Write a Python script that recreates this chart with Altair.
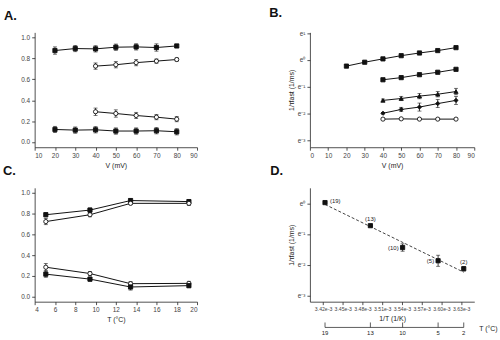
import altair as alt
import pandas as pd

FONT = "Liberation Sans"

# ---------------- Panel A ----------------
A_V_full = [20, 30, 40, 50, 60, 70, 80]
A_V_part = [40, 50, 60, 70, 80]
A_closed_top = [0.876, 0.895, 0.892, 0.908, 0.911, 0.905, 0.92]
A_closed_top_err = [0.035, 0.03, 0.03, 0.03, 0.03, 0.035, 0.015]
A_open_top = [0.727, 0.74, 0.76, 0.775, 0.79]
A_open_top_err = [0.03, 0.03, 0.03, 0.02, 0.015]
A_open_bot = [0.29, 0.273, 0.254, 0.238, 0.219]
A_open_bot_err = [0.035, 0.035, 0.03, 0.025, 0.025]
A_closed_bot = [0.12, 0.114, 0.117, 0.105, 0.105, 0.108, 0.098]
A_closed_bot_err = [0.03, 0.03, 0.03, 0.03, 0.03, 0.03, 0.03]
A_xticks = [10, 20, 30, 40, 50, 60, 70, 80, 90]
A_yticks = [0.0, 0.2, 0.4, 0.6, 0.8, 1.0]

# ---------------- Panel B ----------------
B_V_full = [20, 30, 40, 50, 60, 70, 80]
B_V_part = [40, 50, 60, 70, 80]
B_s1 = [-0.23, -0.085, 0.04, 0.16, 0.26, 0.35, 0.46]
B_s2 = [-0.74, -0.66, -0.55, -0.46, -0.35]
B_s3 = [-1.51, -1.44, -1.35, -1.28, -1.18]
B_s3_err = [0.05, 0.08, 0.1, 0.1, 0.12]
B_s4 = [-1.99, -1.85, -1.76, -1.63, -1.51]
B_s4_err = [0.03, 0.08, 0.15, 0.15, 0.15]
B_s5 = [-2.21, -2.2, -2.21, -2.21, -2.21]
B_xticks = [0, 10, 20, 30, 40, 50, 60, 70, 80, 90]
B_yticks = [-3, -2, -1, 0, 1]

# ---------------- Panel C ----------------
C_T = [5.1, 9.45, 13.45, 19.2]
C_closed_top = [0.79, 0.835, 0.927, 0.917]
C_closed_top_err = [0.02, 0.02, 0.02, 0.02]
C_open_top = [0.724, 0.79, 0.90, 0.90]
C_open_top_err = [0.03, 0.02, 0.01, 0.02]
C_open_bot = [0.283, 0.222, 0.124, 0.127]
C_open_bot_err = [0.035, 0.02, 0.02, 0.02]
C_closed_bot = [0.216, 0.168, 0.092, 0.105]
C_closed_bot_err = [0.03, 0.02, 0.03, 0.02]
C_xticks = [4, 6, 8, 10, 12, 14, 16, 18, 20]
C_yticks = [0.0, 0.2, 0.4, 0.6, 0.8, 1.0]

# ---------------- Panel D ----------------
D_T = [19, 13, 10, 5, 2]
D_invT = [3.423e-3, 3.492e-3, 3.541e-3, 3.595e-3, 3.634e-3]
D_ln = [0.02, -0.73, -1.44, -1.87, -2.13]
D_err = [0.0, 0.02, 0.12, 0.18, 0.07]
D_labels = ["(19)", "(13)", "(10)", "(5)", "(2)"]
D_xticks = [3.42e-3, 3.45e-3, 3.48e-3, 3.51e-3, 3.54e-3, 3.57e-3, 3.60e-3, 3.63e-3]
D_yticks = [-3, -2, -1, 0]

SUP = {1: "e¹", 0: "e⁰", -1: "e⁻¹", -2: "e⁻²", -3: "e⁻³"}


def sup_expr(vals):
    expr = "''"
    for v in vals:
        expr = f"datum.value == {v} ? '{SUP[v]}' : ({expr})"
    return expr


def frame(xs, ys, errs, name):
    return pd.DataFrame({"x": xs, "y": ys, "err": errs, "s": name})


def panel(df, names, shapes, fills, xdom, ydom, xaxis, yaxis, with_lines=True):
    xs = alt.Scale(domain=xdom, nice=False, zero=False)
    ys = alt.Scale(domain=ydom, nice=False, zero=False)
    X = alt.X("x:Q", scale=xs, axis=xaxis)
    Y = alt.Y("y:Q", scale=ys, axis=yaxis)
    base = alt.Chart(df)
    eb = base.transform_filter("datum.err > 0").transform_calculate(
        lo="datum.y - datum.err", hi="datum.y + datum.err")
    bars = eb.mark_rule(color="#111", strokeWidth=0.8).encode(
        x=X, y=alt.Y("lo:Q", scale=ys, axis=yaxis), y2="hi:Q")
    cap_lo = eb.mark_tick(color="#111", size=4, thickness=0.8, orient="horizontal").encode(
        x=X, y=alt.Y("lo:Q", scale=ys, axis=yaxis))
    cap_hi = eb.mark_tick(color="#111", size=4, thickness=0.8, orient="horizontal").encode(
        x=X, y=alt.Y("hi:Q", scale=ys, axis=yaxis))
    lines = base.mark_line(color="#111", strokeWidth=1).encode(x=X, y=Y, detail="s:N")
    pts = base.mark_point(size=18, strokeWidth=0.9, opacity=1, stroke="#111").encode(
        x=X, y=Y,
        shape=alt.Shape("s:N", scale=alt.Scale(domain=names, range=shapes), legend=None),
        fill=alt.Fill("s:N", scale=alt.Scale(domain=names, range=fills), legend=None),
    )
    layers = [bars, cap_lo, cap_hi] + ([lines] if with_lines else []) + [pts]
    return layers, X, Y, xs, ys


def ttl(t, dx):
    return alt.TitleParams(text=t, anchor="start", frame="group", fontSize=13,
                           fontWeight="bold", font=FONT, color="#111", dx=dx, offset=10)


def yax(vals, fmt=None, expr=None, title=None):
    kw = dict(values=vals, title=title)
    if fmt:
        kw["format"] = fmt
    if expr:
        kw["labelExpr"] = expr
    return alt.Axis(**kw)


# ---- A ----
dfA = pd.concat([
    frame(A_V_full, A_closed_top, A_closed_top_err, "A_ct"),
    frame(A_V_part, A_open_top, A_open_top_err, "A_ot"),
    frame(A_V_part, A_open_bot, A_open_bot_err, "A_ob"),
    frame(A_V_full, A_closed_bot, A_closed_bot_err, "A_cb"),
])
layA, *_ = panel(dfA, ["A_ct", "A_ot", "A_ob", "A_cb"], ["square", "circle", "circle", "square"],
                 ["#111", "white", "white", "#111"], [10, 90], [-0.05, 1.05],
                 alt.Axis(values=A_xticks, title="V (mV)"), yax(A_yticks, fmt=".1f"))
chartA = alt.layer(*layA).properties(width=164, height=116, title=ttl("A.", -31))

# ---- B ----
dfB = pd.concat([
    frame(B_V_full, B_s1, [0] * 7, "B_s1"),
    frame(B_V_part, B_s2, [0] * 5, "B_s2"),
    frame(B_V_part, B_s3, B_s3_err, "B_s3"),
    frame(B_V_part, B_s4, B_s4_err, "B_s4"),
    frame(B_V_part, B_s5, [0] * 5, "B_s5"),
])
layB, *_ = panel(dfB, ["B_s1", "B_s2", "B_s3", "B_s4", "B_s5"],
                 ["square", "square", "triangle-up", "diamond", "circle"],
                 ["#111", "#111", "#111", "#111", "white"], [0, 90], [-3.26, 1.03],
                 alt.Axis(values=B_xticks, title="V (mV)"),
                 yax(B_yticks, expr=sup_expr(B_yticks), title="1/τfast (1/ms)"))
chartB = alt.layer(*layB).properties(width=166, height=116, title=ttl("B.", -41))

# ---- C ----
dfC = pd.concat([
    frame(C_T, C_closed_top, C_closed_top_err, "C_ct"),
    frame(C_T, C_open_top, C_open_top_err, "C_ot"),
    frame(C_T, C_open_bot, C_open_bot_err, "C_ob"),
    frame(C_T, C_closed_bot, C_closed_bot_err, "C_cb"),
])
layC, *_ = panel(dfC, ["C_ct", "C_ot", "C_ob", "C_cb"], ["square", "circle", "circle", "square"],
                 ["#111", "white", "white", "#111"], [4, 20], [-0.05, 1.05],
                 alt.Axis(values=C_xticks, title="T (°C)"), yax(C_yticks, fmt=".1f"))
chartC = alt.layer(*layC).properties(width=164, height=115, title=ttl("C.", -32))

# ---- D ----
WD, HD = 166, 115
dfD = pd.DataFrame({"x": D_invT, "y": D_ln, "err": D_err, "s": "D_pts", "lab": D_labels, "T": D_T})
xaxD = alt.Axis(values=D_xticks, title="1/T (1/K)", labelExpr="format(datum.value*1000, '.2f') + 'e-3'",
                labelOverlap=False, labelFontSize=5.2)
layD, XD, YD, xsD, ysD = panel(dfD, ["D_pts"], ["square"], ["#111"], [3.40e-3, 3.65e-3], [-3.2, 0.5],
                               xaxD, yax(D_yticks, expr=sup_expr(D_yticks), title="1/τfast (1/ms)"),
                               with_lines=False)
baseD = alt.Chart(dfD)
reg = baseD.transform_regression("x", "y").mark_line(
    color="#111", strokeWidth=0.8, strokeDash=[3, 2]).encode(x=XD, y=YD)
lab_right = baseD.transform_filter("datum.lab == '(19)'").mark_text(
    align="left", dx=5, dy=-2, fontSize=6, font=FONT, color="#222").encode(x=XD, y=YD, text="lab:N")
lab_up = baseD.transform_filter("datum.lab == '(13)' || datum.lab == '(2)'").mark_text(
    align="center", dy=-7, fontSize=6, font=FONT, color="#222").encode(x=XD, y=YD, text="lab:N")
lab_left = baseD.transform_filter("datum.lab == '(10)' || datum.lab == '(5)'").mark_text(
    align="right", dx=-4, fontSize=6, font=FONT, color="#222").encode(x=XD, y=YD, text="lab:N")
t_rule = baseD.mark_rule(color="#333", strokeWidth=0.8).encode(
    x=alt.X("min(x):Q", scale=xsD, axis=xaxD), x2="max(x):Q", y=alt.value(HD + 26))
t_ticks = baseD.mark_rule(color="#333", strokeWidth=0.8).encode(
    x=XD, y=alt.value(HD + 21), y2=alt.value(HD + 26))
t_text = baseD.mark_text(baseline="top", fontSize=6, font=FONT, color="#222").encode(
    x=XD, y=alt.value(HD + 29), text="T:Q")
t_title = alt.Chart(pd.DataFrame({"t": ["T (°C)"]})).mark_text(
    align="left", baseline="middle", fontSize=7, font=FONT, color="#222").encode(
    x=alt.value(WD + 5), y=alt.value(HD + 28), text="t:N")
chartD = alt.layer(reg, *layD, lab_right, lab_up, lab_left, t_rule, t_ticks, t_text, t_title).properties(
    width=WD, height=HD, title=ttl("D.", -40))

chart = alt.concat(chartA, chartB, chartC, chartD, columns=2,
                   spacing=alt.RowColnumber(row=41, column=114), bounds="flush").resolve_scale(
    shape="independent", fill="independent").configure_view(
    stroke=None).configure_axis(
    labelFont=FONT, titleFont=FONT, labelFontSize=6.5, titleFontSize=7, titleFontWeight="normal",
    tickSize=3, domainColor="#222", tickColor="#222", labelColor="#444", titleColor="#222",
    grid=False, labelPadding=2, titlePadding=3, domainWidth=0.8, tickWidth=0.8,
).properties(padding={"left": 3, "top": 5, "right": 2, "bottom": 2}, background="white")

chart.save("out.html", embed_options={"renderer": "svg", "actions": False})
